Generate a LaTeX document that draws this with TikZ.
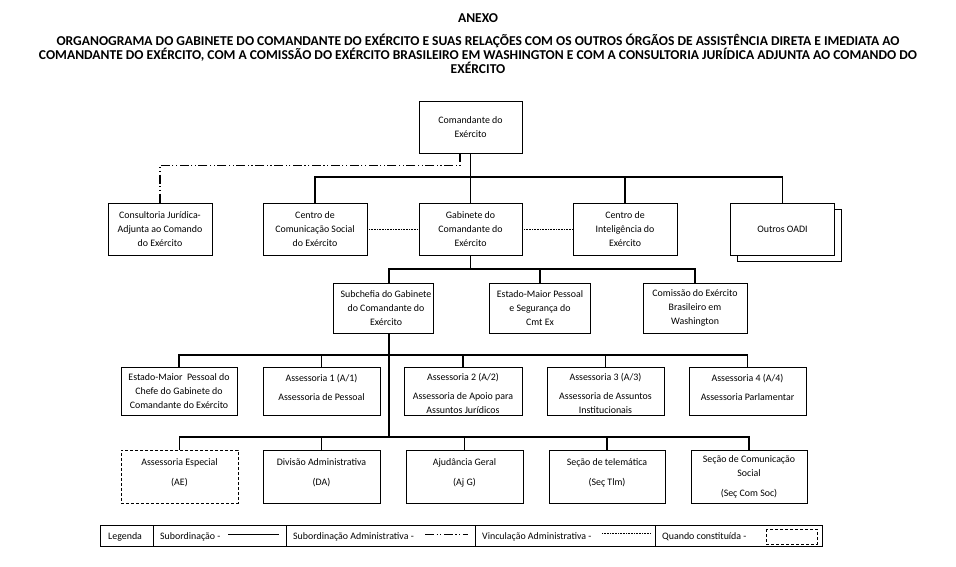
\documentclass[tikz,border=0pt]{standalone}
\usepackage{fontspec}
\setmainfont{Carlito}
\begin{document}
\begin{tikzpicture}[x=1pt,y=-1pt,
  box/.style={draw,line width=0.7pt,inner sep=1pt,align=center,fill=white,
    font=\fontsize{9.9}{14}\selectfont},
  txt/.style={inner sep=0pt,align=center,font=\fontsize{9.9}{14}\selectfont},
  dbox/.style={box,dash pattern=on 3pt off 2pt},
  sub/.style={line width=1.2pt},
  subadm/.style={line width=1.2pt,dash pattern=on 9pt off 2.5pt on 1.2pt off 2.5pt on 1.2pt off 2.5pt},
  vinc/.style={line width=0.9pt,dash pattern=on 0.8pt off 0.8pt},
  ttl/.style={inner sep=0pt,align=center,font=\bfseries\fontsize{13.55}{14}\selectfont},
  leg/.style={inner sep=0pt,anchor=base west,font=\fontsize{9.9}{11}\selectfont}]
\useasboundingbox (0,0) rectangle (956,566);
\fill[white] (0,0) rectangle (956,566);
% title
\node[ttl] (anexo) at (478,18) {ANEXO};
\node[ttl] (title) at (478,54) {ORGANOGRAMA DO GABINETE DO COMANDANTE DO EXÉRCITO E SUAS RELAÇÕES COM OS OUTROS ÓRGÃOS DE ASSISTÊNCIA DIRETA E IMEDIATA AO\\COMANDANTE DO EXÉRCITO, COM A COMISSÃO DO EXÉRCITO BRASILEIRO EM WASHINGTON E COM A CONSULTORIA JURÍDICA ADJUNTA AO COMANDO DO\\EXÉRCITO};
% row 1
\node[box,minimum width=103pt,minimum height=52pt] (cmd) at (470.5,127) {Comandante do\\Exército};
% row 2
\node[box,minimum width=104pt,minimum height=52pt] (cons) at (160,229) {Consultoria Jurídica-\\Adjunta ao Comando\\do Exército};
\node[box,minimum width=104pt,minimum height=52pt] (ccs) at (315,229) {Centro de\\Comunicação Social\\do Exército};
\node[box,minimum width=103pt,minimum height=52pt] (gab) at (470.5,229) {Gabinete do\\Comandante do\\Exército};
\node[box,minimum width=104pt,minimum height=52pt] (intel) at (625,229) {Centro de\\Inteligência do\\Exército};
\node[box,minimum width=104pt,minimum height=52pt] (outsh) at (789,235.5) {};
\node[box,minimum width=104pt,minimum height=52pt] (outros) at (782.5,229) {Outros OADI};
% row 3
\node[box,minimum width=100pt,minimum height=50pt] (subc) at (383,308) {};
\node[txt] (subctxt) at (386,308) {Subchefia do Gabinete\\do Comandante do\\Exército};
\node[box,minimum width=101pt,minimum height=50pt] (emp) at (540,308) {Estado-Maior Pessoal\\e Segurança do\\Cmt Ex};
\node[box,minimum width=104pt,minimum height=50pt] (cebw) at (695,308) {Comissão do Exército\\Brasileiro em\\Washington};
% row 4
\node[box,minimum width=116pt,minimum height=48pt] (empc) at (179,391) {Estado-Maior~ Pessoal do\\Chefe do Gabinete do\\Comandante do Exército};
\node[box,minimum width=117pt,minimum height=48pt] (a1) at (321.5,391) {Assessoria 1 (A/1)\\[5pt]Assessoria de Pessoal\\[-6pt]\mbox{}};
\node[box,minimum width=118pt,minimum height=48pt] (a2) at (463,391) {\mbox{}\\[-1pt]Assessoria 2 (A/2)\\[5pt]Assessoria de Apoio para\\Assuntos Jurídicos};
\node[box,minimum width=117pt,minimum height=48pt] (a3) at (605.5,391) {\mbox{}\\[-1pt]Assessoria 3 (A/3)\\[5pt]Assessoria de Assuntos\\Institucionais};
\node[box,minimum width=117pt,minimum height=48pt] (a4) at (747.5,391) {Assessoria 4 (A/4)\\[5pt]Assessoria Parlamentar\\[-6pt]\mbox{}};
% row 5
\node[dbox,minimum width=117pt,minimum height=53pt] (ae) at (179.5,476.5) {Assessoria Especial\\[6pt](AE)\\[-6pt]\mbox{}};
\node[box,minimum width=117pt,minimum height=53pt] (da) at (321.5,476.5) {Divisão Administrativa\\[6pt](DA)\\[-6pt]\mbox{}};
\node[box,minimum width=117pt,minimum height=53pt] (ajg) at (464.5,476.5) {Ajudância Geral\\[6pt](Aj G)\\[-6pt]\mbox{}};
\node[box,minimum width=116pt,minimum height=53pt] (tlm) at (607,476.5) {Seção de telemática\\[6pt](Seç Tlm)\\[-6pt]\mbox{}};
\node[box,minimum width=116pt,minimum height=53pt] (csoc) at (749,476.5) {Seção de Comunicação\\Social\\[6pt](Seç Com Soc)};
% connectors row1-2
\coordinate (bus1) at (470.5,177);
\draw[sub] (cmd.south) -- (gab.north);
\draw[sub] (ccs.north) |- (bus1) -| (outros.north);
\draw[sub] (intel.north) -- (intel.north |- bus1);
\coordinate (sa1) at ([xshift=-10.5pt]cmd.south);
\draw[subadm] (sa1) -- ++(0,12) -| (cons.north);
\draw[vinc] (ccs.east) -- (gab.west);
\draw[vinc] (gab.east) -- (intel.west);
% row 3
\coordinate (bus2) at (470.5,269);
\coordinate (subtop) at (389,283);
\draw[sub] (gab.south) -- (bus2);
\draw[sub] (subtop) |- (bus2) -| (cebw.north);
\draw[sub] (emp.north) -- (emp.north |- bus2);
% row 4 and 5
\coordinate (subbot) at (389,333);
\coordinate (bus4) at (389,437);
\draw[sub] (subbot) -- (bus4);
\coordinate (bus3) at (389,355);
\draw[sub] (empc.north) |- (bus3) -| (a4.north);
\draw[sub] (a1.north) -- (a1.north |- bus3);
\draw[sub] (a2.north) -- (a2.north |- bus3);
\draw[sub] (a3.north) -- (a3.north |- bus3);
\draw[sub] (ae.north) |- (bus4) -| (csoc.north);
\draw[sub] (da.north) -- (da.north |- bus4);
\draw[sub] (ajg.north) -- (ajg.north |- bus4);
\draw[sub] (tlm.north) -- (tlm.north |- bus4);
% legend
\draw[line width=0.7pt] (100,525) rectangle (822,546);
\foreach \xx in {153,286,475,655} \draw[line width=0.7pt] (\xx,525) -- (\xx,546);
\node[leg] (l0) at (108,539) {Legenda};
\node[leg] (l1) at (160,539) {Subordinação -};
\node[leg] (l2) at (293,539) {Subordinação Administrativa -};
\node[leg] (l3) at (482,539) {Vinculação Administrativa -};
\node[leg] (l4) at (662,539) {Quando constituída -};
\draw[sub] (228,534.5) -- (279,534.5);
\draw[subadm] (425,534.5) -- (468,534.5);
\draw[vinc,line width=0.6pt] (602,533) -- (651,533);
\draw[line width=0.6pt,dash pattern=on 3pt off 2pt] (766,529) rectangle (817,544);
\end{tikzpicture}
\end{document}
